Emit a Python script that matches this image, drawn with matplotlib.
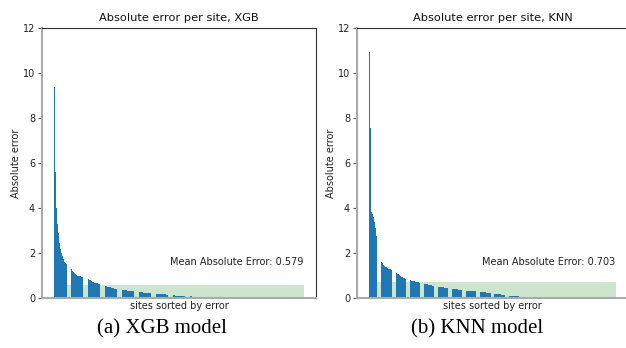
import matplotlib
matplotlib.use("Agg")
import matplotlib.pyplot as plt
import numpy as np

# ---------------- data ----------------
xgb_errors = [
    9.40, 5.60, 4.00, 3.30, 2.90, 2.45, 2.20, 2.00, 1.85, 1.72,
    1.62, 1.55, 1.50, 1.45, 1.40, 1.37, 1.34, 1.31, 1.29, 1.22,
    1.16, 1.12, 1.08, 1.04, 1.00, 0.99, 0.98, 0.96, 0.95, 0.94,
    0.93, 0.92, 0.91, 0.89, 0.87, 0.85, 0.83, 0.80, 0.78, 0.75,
    0.73, 0.70, 0.68, 0.67, 0.66, 0.65, 0.64, 0.63, 0.62, 0.61,
    0.60, 0.58, 0.57, 0.55, 0.54, 0.53, 0.51, 0.50, 0.48, 0.47,
    0.45, 0.44, 0.43, 0.42, 0.41, 0.41, 0.40, 0.39, 0.38, 0.38,
    0.37, 0.36, 0.36, 0.35,
    0.345, 0.34, 0.335, 0.33, 0.325, 0.32, 0.315, 0.31, 0.305, 0.30,
    0.295, 0.29, 0.285, 0.28,
    0.275, 0.27, 0.265, 0.26, 0.25,
    0.247, 0.244, 0.241, 0.238, 0.235, 0.232, 0.229, 0.226, 0.223, 0.22,
    0.217, 0.214, 0.211, 0.208, 0.204, 0.20,
    0.17, 0.168, 0.166, 0.165, 0.163, 0.162, 0.16, 0.158, 0.157, 0.155,
    0.153, 0.152, 0.15, 0.148, 0.147, 0.145, 0.143, 0.142, 0.14,
    0.11, 0.108, 0.107, 0.105, 0.104, 0.102, 0.10, 0.099, 0.097, 0.096,
    0.094, 0.093, 0.091, 0.09, 0.089, 0.088, 0.086, 0.085,
    0.065, 0.064, 0.062, 0.061, 0.06, 0.059, 0.058, 0.056, 0.055, 0.054,
    0.053, 0.051, 0.05, 0.049, 0.048, 0.047, 0.046, 0.045, 0.043, 0.042,
    0.04,
    0.03, 0.025, 0.02, 0.015,
    0, 0, 0, 0, 0, 0, 0, 0, 0, 0, 0, 0, 0, 0, 0, 0, 0, 0, 0, 0,
    0, 0, 0, 0, 0, 0, 0, 0, 0, 0, 0, 0, 0, 0, 0, 0, 0, 0, 0, 0,
    0, 0, 0, 0, 0, 0, 0, 0, 0, 0, 0, 0, 0, 0, 0, 0, 0, 0, 0, 0,
    0, 0, 0, 0, 0, 0, 0, 0, 0, 0, 0, 0, 0, 0, 0, 0, 0, 0, 0, 0,
    0, 0, 0, 0, 0, 0, 0, 0, 0, 0, 0, 0, 0,
]

knn_errors = [
    10.95, 7.54, 3.84, 3.75, 3.60, 3.40, 3.10, 2.75, 2.40, 2.13,
    1.95, 1.80, 1.69, 1.62, 1.55, 1.48, 1.43, 1.39, 1.36, 1.33,
    1.31, 1.29, 1.27, 1.26, 1.24, 1.23, 1.21, 1.19, 1.16, 1.12,
    1.08, 1.05, 1.02, 0.99, 0.95, 0.92, 0.90, 0.88, 0.86, 0.845,
    0.83, 0.82, 0.81, 0.79, 0.78, 0.77, 0.76, 0.75, 0.74, 0.72,
    0.71, 0.70, 0.69, 0.685, 0.68, 0.67, 0.66, 0.65, 0.645, 0.635,
    0.625, 0.615, 0.61, 0.60, 0.59, 0.58, 0.57, 0.555, 0.545, 0.535,
    0.53, 0.53, 0.525, 0.52, 0.51, 0.50, 0.495, 0.49, 0.48, 0.475,
    0.465, 0.46, 0.45, 0.445, 0.435, 0.425, 0.415, 0.41, 0.405, 0.40,
    0.40, 0.395, 0.39, 0.385, 0.38, 0.375, 0.37, 0.365, 0.355, 0.35,
    0.345, 0.34, 0.335, 0.33, 0.33, 0.325, 0.325, 0.32, 0.32, 0.315,
    0.31,
    0.305, 0.30, 0.295, 0.29, 0.285, 0.28, 0.276, 0.272, 0.268, 0.264,
    0.26, 0.256, 0.252, 0.248, 0.244, 0.24,
    0.235, 0.23, 0.224, 0.218, 0.212, 0.206, 0.20, 0.194, 0.188, 0.182,
    0.176, 0.17, 0.164, 0.158, 0.15, 0.142, 0.135,
    0.13, 0.126, 0.122, 0.118, 0.114, 0.11, 0.106, 0.102, 0.098, 0.094,
    0.09, 0.086, 0.083, 0.08, 0.077, 0.074, 0.071, 0.068, 0.065, 0.062,
    0.06,
    0.05, 0.04, 0.03, 0.02, 0.015,
    0, 0, 0, 0, 0, 0, 0, 0, 0, 0, 0, 0, 0, 0, 0, 0, 0, 0, 0, 0,
    0, 0, 0, 0, 0, 0, 0, 0, 0, 0, 0, 0, 0, 0, 0, 0, 0, 0, 0, 0,
    0, 0, 0, 0, 0, 0, 0, 0, 0, 0, 0, 0, 0, 0, 0, 0, 0, 0, 0, 0,
    0, 0, 0, 0, 0, 0, 0, 0, 0, 0, 0, 0, 0, 0, 0, 0, 0, 0, 0, 0,
    0, 0, 0, 0, 0, 0, 0, 0, 0, 0, 0, 0, 0, 0,
]

model_names = ["XGB", "KNN"]
mae_values = [0.579, 0.703]
captions = ["(a) XGB model", "(b) KNN model"]
y_ticks = [0, 2, 4, 6, 8, 10, 12]

# ---------------- figure ----------------
fig = plt.figure(figsize=(6.26, 3.48), dpi=100)
axes_rects = [
    [42 / 626, 50 / 348, 274 / 626, 270 / 348],
    [357 / 626, 50 / 348, 271 / 626, 270 / 348],
]
caption_x = [162 / 626, 477 / 626]

for k, errs in enumerate([xgb_errors, knn_errors]):
    ax = fig.add_axes(axes_rects[k])
    errs = np.asarray(errs, dtype=float)
    x = np.arange(len(errs))
    ax.bar(x, errs, width=0.72, color="#1f77b4", zorder=2)
    ax.fill_between([x[0] - 0.4, x[-1] + 0.4], 0, mae_values[k],
                    color="green", alpha=0.2, linewidth=0, zorder=1)
    ax.text(x[-1] + 0.4, 1.6, f"Mean Absolute Error: {mae_values[k]}",
            ha="right", va="center", fontsize=7, color="#222222")
    ax.set_xlim(x[0] - 0.4 - 0.05 * (len(errs) - 0.2),
                x[-1] + 0.4 + 0.05 * (len(errs) - 0.2))
    ax.set_ylim(0, 12)
    ax.set_yticks(y_ticks)
    ax.set_xticks([])
    ax.tick_params(axis="y", labelsize=7, length=3, width=0.8,
                   color="#555555", labelcolor="#222222", pad=2)
    ax.set_title(f"Absolute error per site, {model_names[k]}",
                 fontsize=8.2, pad=5, color="#111111")
    ax.set_xlabel("sites sorted by error", fontsize=7, labelpad=2,
                  color="#222222")
    ax.set_ylabel("Absolute error", fontsize=7, labelpad=1, color="#222222")
    for side in ["left", "bottom"]:
        ax.spines[side].set_color("#aaaaaa")
        ax.spines[side].set_linewidth(1.5)
    for side in ["top", "right"]:
        ax.spines[side].set_color("#333333")
        ax.spines[side].set_linewidth(0.8)
    fig.text(caption_x[k], 10 / 348, captions[k], ha="center", va="bottom",
             fontsize=15, family="Liberation Serif")

fig.savefig("out.png", dpi=100)
